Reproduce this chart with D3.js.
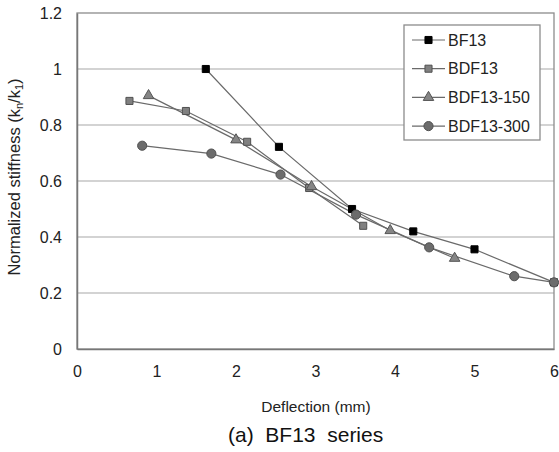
<!DOCTYPE html>
<html>

<head>
    <meta charset="utf-8">
    <title>BF13 series</title>
    <script src="https://d3js.org/d3.v7.min.js"></script>
    <style>
        body {
            margin: 0;
            background: #fff;
            font-family: 'Liberation Sans', Arial, sans-serif;
        }
    </style>
</head>

<body>
    <div id="svg-container"></div>
    <script>
        // data
        const seriesNames = ['BF13', 'BDF13', 'BDF13-150', 'BDF13-300']
        const bf13X = [1.62, 2.54, 3.46, 4.23, 5.0, 6.0]
        const bf13Y = [1.0, 0.722, 0.50, 0.42, 0.356, 0.238]
        const bdf13X = [0.66, 1.37, 2.14, 2.92, 3.60]
        const bdf13Y = [0.886, 0.85, 0.74, 0.575, 0.44]
        const bdf150X = [0.90, 2.0, 2.95, 3.94, 4.75]
        const bdf150Y = [0.905, 0.747, 0.58, 0.423, 0.324]
        const bdf300X = [0.82, 1.69, 2.56, 3.51, 4.43, 5.50, 6.0]
        const bdf300Y = [0.726, 0.698, 0.623, 0.48, 0.363, 0.26, 0.238]
        const xTicks = [0, 1, 2, 3, 4, 5, 6]
        const yTicks = [0, 0.2, 0.4, 0.6, 0.8, 1, 1.2]

        const w = 559
        const h = 452
        const padding = { top: 13, right: 5, bottom: 103, left: 77 }

        const xScale = d3.scaleLinear().domain([0, 6]).range([padding.left, w - padding.right])
        const yScale = d3.scaleLinear().domain([0, 1.2]).range([h - padding.bottom, padding.top])

        const series = [
            { name: seriesNames[0], xs: bf13X, ys: bf13Y, shape: 'square', fill: '#000', stroke: '#000' },
            { name: seriesNames[1], xs: bdf13X, ys: bdf13Y, shape: 'square', fill: '#808080', stroke: '#505050' },
            { name: seriesNames[2], xs: bdf150X, ys: bdf150Y, shape: 'triangle', fill: '#858585', stroke: '#555' },
            { name: seriesNames[3], xs: bdf300X, ys: bdf300Y, shape: 'circle', fill: '#6c6c6c', stroke: '#505050' }
        ]

        function marker(shape) {
            if (shape === 'square') {
                return d3.symbol().type(d3.symbolSquare).size(50)()
            } else if (shape === 'triangle') {
                return d3.symbol().type(d3.symbolTriangle).size(48)()
            } else {
                return d3.symbol().type(d3.symbolCircle).size(66)()
            }
        }

        var svg = d3.select('#svg-container')
            .append('svg')
            .attr('width', w)
            .attr('height', h)
            .style('font-family', "'Liberation Sans', Arial, sans-serif")

        // grid lines
        svg.append('g')
            .selectAll('line')
            .data(yTicks.filter(d => d > 0 && d < 1.2))
            .enter()
            .append('line')
            .attr('x1', padding.left)
            .attr('x2', w - padding.right)
            .attr('y1', d => yScale(d))
            .attr('y2', d => yScale(d))
            .attr('stroke', '#c4c4c4')
            .attr('stroke-width', 1.5)

        // plot border
        svg.append('rect')
            .attr('x', padding.left)
            .attr('y', padding.top)
            .attr('width', w - padding.right - padding.left)
            .attr('height', h - padding.bottom - padding.top)
            .attr('fill', 'none')
            .attr('stroke', '#8c8c8c')
            .attr('stroke-width', 1.3)

        const xAxis = d3.axisBottom(xScale).tickValues(xTicks).tickSize(0).tickPadding(17).tickFormat(d3.format('d'))
        const yAxis = d3.axisLeft(yScale).tickValues(yTicks).tickSize(0).tickPadding(15).tickFormat(d => String(d))

        const gx = svg.append('g')
            .attr('transform', 'translate(0,' + (h - padding.bottom) + ')')
            .call(xAxis)
        const gy = svg.append('g')
            .attr('transform', 'translate(' + padding.left + ',0)')
            .call(yAxis)
        gx.select('.domain').attr('stroke', '#777').attr('stroke-width', 1.5)
        gy.select('.domain').attr('stroke', '#777').attr('stroke-width', 1.5)
        svg.selectAll('.tick text')
            .attr('fill', '#222')
            .style('font-size', '16px')
            .style('font-family', "'Liberation Sans', Arial, sans-serif")

        // series lines and markers
        const line = d3.line().x(d => xScale(d[0])).y(d => yScale(d[1]))
        series.forEach(s => {
            const pts = s.xs.map((x, i) => [x, s.ys[i]])
            svg.append('path')
                .datum(pts)
                .attr('d', line)
                .attr('fill', 'none')
                .attr('stroke', '#6a6a6a')
                .attr('stroke-width', 1.2)
        })
        series.forEach(s => {
            const pts = s.xs.map((x, i) => [x, s.ys[i]])
            svg.append('g')
                .selectAll('path')
                .data(pts)
                .enter()
                .append('path')
                .attr('d', marker(s.shape))
                .attr('transform', d => 'translate(' + xScale(d[0]) + ',' + yScale(d[1]) + ')')
                .attr('fill', s.fill)
                .attr('stroke', s.stroke)
                .attr('stroke-width', 1)
        })

        // legend
        var legend = svg.append('g').attr('id', 'legend')
        legend.append('rect')
            .attr('x', 404)
            .attr('y', 25)
            .attr('width', 136)
            .attr('height', 115)
            .attr('fill', '#fff')
            .attr('stroke', '#8c8c8c')
            .attr('stroke-width', 1.3)

        const items = legend.selectAll('g.item')
            .data(series)
            .enter()
            .append('g')
            .attr('class', 'item')
            .attr('transform', (d, i) => 'translate(0,' + (40 + i * 28.7) + ')')
        items.append('line')
            .attr('x1', 412)
            .attr('x2', 445)
            .attr('stroke', '#6a6a6a')
            .attr('stroke-width', 1.2)
        items.append('path')
            .attr('d', d => marker(d.shape))
            .attr('transform', 'translate(428.5,0)')
            .attr('fill', d => d.fill)
            .attr('stroke', d => d.stroke)
        items.append('text')
            .attr('x', 448)
            .attr('y', 0)
            .attr('dy', '0.36em')
            .style('font-size', '16px')
            .attr('fill', '#222')
            .text(d => d.name)

        // axis titles
        const ytitle = svg.append('text')
            .attr('transform', 'translate(20,177) rotate(-90)')
            .attr('text-anchor', 'middle')
            .style('font-size', '16.5px')
            .attr('fill', '#222')
        ytitle.append('tspan').text('Normalized stiffness (k')
        ytitle.append('tspan').attr('dy', 3).style('font-size', '11px').text('n')
        ytitle.append('tspan').attr('dy', -3).text('/k')
        ytitle.append('tspan').attr('dy', 3).style('font-size', '11px').text('1')
        ytitle.append('tspan').attr('dy', -3).text(')')

        svg.append('text')
            .attr('x', 316)
            .attr('y', 412)
            .attr('text-anchor', 'middle')
            .style('font-size', '15.5px')
            .attr('fill', '#222')
            .text('Deflection (mm)')

        svg.append('text')
            .attr('x', 228)
            .attr('y', 442)
            .style('font-size', '21px')
            .style('white-space', 'pre')
            .attr('fill', '#111')
            .text('(a)  BF13  series')
    </script>
</body>

</html>
